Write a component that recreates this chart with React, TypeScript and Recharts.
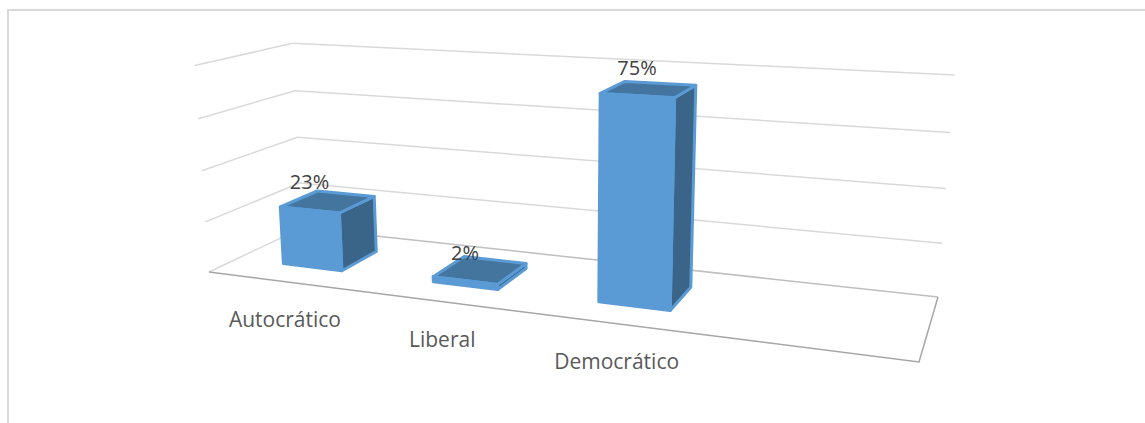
import React from "react";
import { BarChart, Bar, XAxis, YAxis, ReferenceLine, LabelList } from "recharts";

// Values shown on the chart
const categories = ["Autocrático", "Liberal", "Democrático"];
const percentages = [23, 2, 75];
const percentTicks = [0, 20, 40, 60, 80];

const rows = categories.map((estilo, i) => ({ estilo, valor: percentages[i] }));

const CHART_W = 1145;
const CHART_H = 423;
// The axes take one pixel each, leaving this flat plot area for the scales
const PLOT_LEFT = 1;
const PLOT_W = CHART_W - 1;
const PLOT_H = CHART_H - 1;

const acrossOf = (x: number) => (x - PLOT_LEFT) / PLOT_W;
const heightOf = (y: number) => (PLOT_H - y) / PLOT_H;

// Perspective camera: maps (across, depth, height), each 0..1, to screen pixels
function project(u: number, d: number, h: number): [number, number] {
  const w = -0.19343 * u + 0.12213 * d - 0.039 * h + 1;
  const px = 532.24 * u + 129.88 * d - 22 * h + 209;
  const py = 19.98 * u - 16.15 * d - 209 * h + 272;
  return [px / w, py / w];
}

const toPoints = (corners: [number, number, number][]) =>
  corners.map((c) => project(c[0], c[1], c[2]).map((n) => n.toFixed(1)).join(",")).join(" ");

const DEPTH_FRONT = 0.29;
const DEPTH_BACK = 0.7;

const BLUE = "#5B9BD5";
const BLUE_TOP = "#44759F";
const BLUE_SIDE = "#3A6488";

// Three visible faces of a column, extruded from the flat bar rectangle
function Column(props: any) {
  const { x, y, width } = props;
  const u0 = acrossOf(x);
  const u1 = acrossOf(x + width);
  const h = heightOf(y);
  const df = DEPTH_FRONT;
  const db = DEPTH_BACK;
  const face = { stroke: BLUE, strokeWidth: 3, strokeLinejoin: "round" as const };
  return (
    <g>
      <polygon
        points={toPoints([[u1, df, 0], [u1, db, 0], [u1, db, h], [u1, df, h]])}
        fill={BLUE_SIDE}
        {...face}
      />
      <polygon
        points={toPoints([[u0, df, h], [u0, db, h], [u1, db, h], [u1, df, h]])}
        fill={BLUE_TOP}
        {...face}
      />
      <polygon
        points={toPoints([[u0, df, 0], [u1, df, 0], [u1, df, h], [u0, df, h]])}
        fill={BLUE}
        {...face}
      />
    </g>
  );
}

// Percentage printed above the front top edge of a column
function ValueLabel(props: any) {
  const { x, y, width, value } = props;
  const [px, py] = project(acrossOf(x + width / 2), DEPTH_FRONT, heightOf(y));
  return (
    <text x={px} y={py - 28} textAnchor="middle" dominantBaseline="central" fontFamily="Open Sans" fontSize={20} fill="#404040">
      {value}%
    </text>
  );
}

// Category name laid on the ground just ahead of the floor's front edge
function CategoryTick(props: any) {
  const { x, payload } = props;
  const [px, py] = project(acrossOf(x), 0, 0);
  return (
    <text x={px} y={py + 37} textAnchor="middle" dominantBaseline="central" fontFamily="Open Sans" fontSize={21} fill="#595959">
      {payload.value}
    </text>
  );
}

// A gridline wrapping the side and back walls at the reference value's height;
// the zero value also draws the floor's outline.
function WallLine(props: any) {
  const h = heightOf(props.y1);
  const isFloor = h < 0.001;
  return (
    <g fill="none">
      <polyline points={toPoints([[0, 0, h], [0, 1, h]])} stroke="#D9D9D9" strokeWidth={1.5} />
      <polyline points={toPoints([[0, 1, h], [1, 1, h]])} stroke={isFloor ? "#BFBFBF" : "#D9D9D9"} strokeWidth={1.5} />
      {isFloor && (
        <polyline points={toPoints([[0, 0, 0], [1, 0, 0], [1, 1, 0]])} stroke="#A6A6A6" strokeWidth={1.5} />
      )}
    </g>
  );
}

export default function App() {
  return (
    <div style={{ position: "absolute", left: 0, top: 0, width: CHART_W, height: CHART_H, background: "#fff", overflow: "hidden" }}>
      <div
        style={{
          position: "absolute",
          left: 7,
          top: 9,
          right: 0,
          bottom: -4,
          borderLeft: "2px solid #D9D9D9",
          borderTop: "2px solid #D9D9D9",
        }}
      />
      <div style={{ position: "absolute", left: 0, top: 0 }}>
        <BarChart
          width={CHART_W}
          height={CHART_H}
          data={rows}
          margin={{ top: 0, right: 0, bottom: 0, left: 0 }}
          barCategoryGap="30%"
        >
          <XAxis
            dataKey="estilo"
            height={1}
            interval={0}
            padding={{ left: 6, right: CHART_W / 4 }}
            axisLine={false}
            tickLine={false}
            tick={CategoryTick}
          />
          <YAxis
            width={1}
            domain={[0, 80]}
            ticks={percentTicks}
            interval={0}
            axisLine={false}
            tickLine={false}
            tick={false}
          />
          {percentTicks.map((t) => (
            <ReferenceLine key={t} y={t} shape={WallLine} zIndex={-100} />
          ))}
          <Bar dataKey="valor" isAnimationActive={false} shape={Column}>
            <LabelList dataKey="valor" content={ValueLabel} />
          </Bar>
        </BarChart>
      </div>
    </div>
  );
}
